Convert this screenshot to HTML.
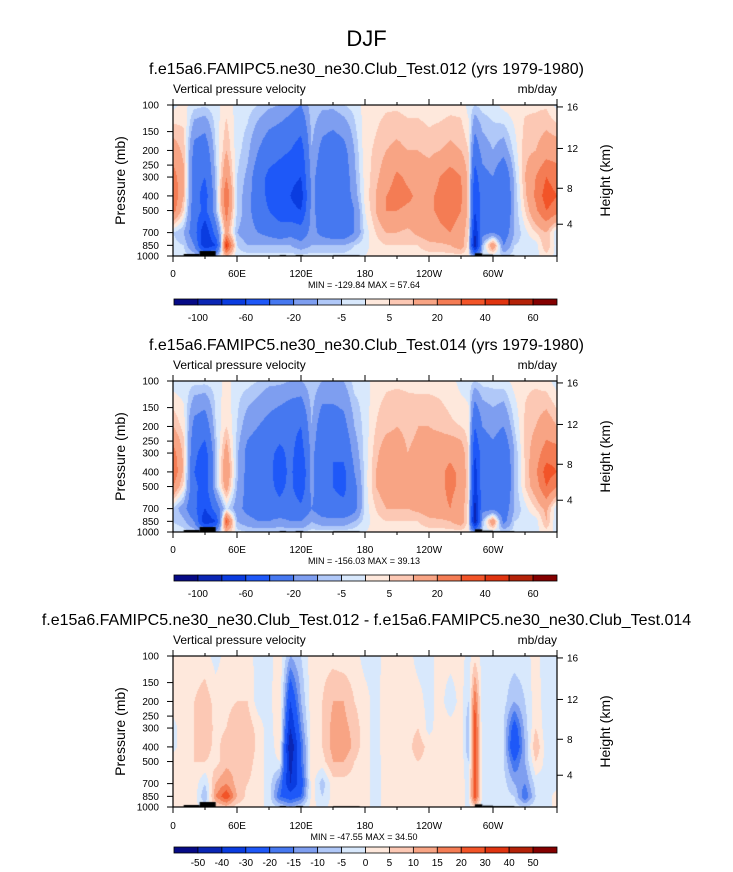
<!DOCTYPE html>
<html><head><meta charset="utf-8"><style>
body{margin:0;background:#fff;width:733px;height:872px;overflow:hidden;font-family:"Liberation Sans",Arial,sans-serif}
canvas{position:absolute}
svg{position:absolute;left:0;top:0}
</style></head><body>
<canvas id="c1" width="384" height="151" style="left:173px;top:105px"></canvas>
<canvas id="c2" width="384" height="151" style="left:173px;top:381px"></canvas>
<canvas id="c3" width="384" height="151" style="left:173px;top:656px"></canvas>
<svg id="s" width="733" height="872"></svg>
<script>
const lons=[0,10,20,30,40,50,60,70,80,90,100,110,120,130,140,150,160,170,180,190,200,210,220,230,240,250,260,270,277,283,290,300,310,320,330,340,350,360];
const levs=[100,200,300,400,500,700,850,1000];
const xTickLabels=["0","60E","120E","180","120W","60W"];
const xTickLons=[0,60,120,180,240,300];
const pTicks=[100,150,200,250,300,400,500,700,850,1000];
const hTicks=[4,8,12,16];
const hTickP=[616,356,194,103];
const levels1=[-100,-80,-60,-40,-20,-10,-5,0,5,10,20,30,40,50,60];
const levels3=[-50,-40,-30,-20,-15,-10,-5,0,5,10,15,20,30,40,50];
const colors=["#060a86","#0a26b4","#0a3ce0","#1e58f8","#4678f0","#7e9ef0","#b0c8f8","#d8e8fc","#fee8dc","#fcc8b4","#f8a484","#f47c54","#f25428","#e03410","#b42208","#840000"];
const data1=[
[-2,2,-3,-4,-2,3,-2,-3,-5,-8,-10,-15,-20,-5,-8,-8,-5,-3,2,3,4,4,3,3,2,2,3,3,-2,-5,-3,-2,2,3,4,4,4,-2],
[15,8,-25,-30,-5,10,-3,-8,-20,-30,-35,-40,-50,-10,-25,-30,-25,-10,3,6,10,12,10,10,8,10,12,10,5,-30,-15,-10,-15,-3,8,10,15,15],
[25,12,-30,-40,-8,20,-5,-12,-30,-45,-50,-55,-60,-15,-30,-35,-30,-12,2,8,15,22,18,15,15,20,25,20,8,-50,-25,-20,-35,-8,10,20,30,25],
[30,10,-30,-50,-10,30,-5,-15,-30,-45,-55,-60,-70,-15,-30,-40,-30,-15,2,10,20,25,22,18,18,22,28,22,8,-60,-30,-25,-40,-10,8,22,35,30],
[25,5,-30,-45,-10,25,-5,-15,-30,-40,-50,-55,-60,-15,-30,-35,-35,-20,0,10,20,20,18,18,18,22,25,20,8,-60,-30,-25,-40,-10,5,18,30,25],
[-5,-10,-30,-80,-30,15,-10,-15,-20,-25,-30,-25,-30,-15,-25,-30,-30,-20,-3,5,10,10,8,12,15,18,20,15,5,-80,-25,-20,-30,-10,-2,5,10,-5],
[-3,-5,-20,-80,-60,45,-5,-10,-10,-10,-10,-10,-15,-10,-10,-10,-10,-5,-2,3,5,5,5,5,8,8,10,15,3,-100,-10,20,-20,-5,-3,-3,10,-3],
[-2,-3,-5,-10,-10,10,-3,-3,-3,-3,-3,-3,-3,-3,-3,-3,-3,-2,0,2,2,2,2,3,3,3,3,3,1,-20,-3,-3,-5,-3,-2,-2,3,-2]];
const data2=[
[-3,-3,-3,-3,-3,2,-3,-3,-5,-8,-8,-10,-10,-5,-10,-10,-10,-3,-3,3,4,4,4,3,3,3,2,-2,-3,-5,-3,-3,-2,2,4,4,2,-3],
[10,3,-25,-30,-5,5,-5,-15,-20,-25,-30,-35,-40,-10,-30,-30,-25,-10,-3,5,8,10,8,10,10,8,6,5,3,-40,-20,-15,-20,-5,6,10,15,10],
[25,8,-35,-50,-8,15,-8,-25,-30,-35,-45,-35,-50,-15,-35,-40,-35,-15,-3,8,15,15,10,12,15,18,18,15,5,-60,-30,-25,-35,-10,6,15,25,25],
[30,8,-40,-55,-8,20,-8,-25,-35,-35,-50,-35,-60,-15,-40,-40,-45,-20,-3,10,15,15,12,15,15,18,22,18,5,-70,-30,-25,-40,-10,5,18,35,30],
[20,3,-35,-50,-8,15,-10,-25,-35,-35,-45,-35,-55,-15,-35,-40,-45,-25,-3,10,15,15,12,15,15,18,22,18,5,-70,-30,-25,-40,-10,5,15,30,20],
[-5,-15,-35,-60,-30,-3,-15,-25,-30,-30,-35,-30,-35,-20,-30,-35,-35,-25,-3,5,10,10,10,12,15,18,20,15,3,-90,-25,-25,-30,-10,-2,5,12,-5],
[-5,-8,-20,-80,-60,35,-10,-15,-20,-20,-15,-20,-20,-10,-15,-15,-15,-10,-3,3,5,5,5,5,8,8,10,15,3,-100,-10,20,-25,-5,-3,-3,10,-5],
[-2,-3,-5,-10,-15,10,-3,-5,-5,-5,-5,-5,-5,-3,-3,-3,-3,-2,0,2,2,2,2,3,3,3,3,3,1,-20,-3,-3,-5,-3,-2,-2,3,-2]];
const data3=[
[2,2,2,2,-2,2,3,2,-2,-2,3,-10,-5,3,3,3,2,2,-2,-2,2,2,2,-2,-2,2,2,2,-2,3,-2,-2,-2,-2,-2,2,-3,-3],
[3,3,5,8,3,3,5,5,-3,-2,5,-30,-10,3,5,10,10,5,2,-2,3,5,3,2,-2,2,-3,2,-5,20,-3,-3,-3,-10,-5,3,-3,-3],
[-2,3,5,10,3,5,10,8,3,-3,5,-40,-15,3,5,12,12,8,2,-2,3,5,3,5,-2,3,2,3,-10,25,-3,-3,-5,-25,-8,5,-3,-3],
[-2,3,5,8,3,8,10,10,3,-3,3,-50,-20,3,5,12,15,8,2,-2,3,3,3,8,3,5,2,3,-10,25,-3,-3,-5,-30,-10,10,-3,-3],
[3,3,5,5,3,8,8,8,2,-2,0,-45,-20,3,3,10,10,5,2,-2,2,3,3,5,3,5,3,3,-5,25,-3,-3,-5,-20,-10,5,-2,-2],
[3,5,3,-5,10,15,8,5,2,-2,-15,-40,-25,3,-8,3,3,3,2,-2,2,2,3,2,3,3,3,3,-3,25,-2,-2,-3,-10,-15,-3,-2,-2],
[3,3,3,-10,15,25,10,3,2,-2,-20,-25,-20,2,-5,2,2,2,2,-2,2,2,2,2,2,2,2,2,-2,25,-2,-2,-3,-5,-20,-5,-2,2],
[2,2,2,-3,5,8,3,2,2,-2,-5,-10,-5,2,-2,2,2,2,2,-2,2,2,2,2,2,2,2,2,-2,5,-2,-2,-2,-3,-5,-2,-2,2]];
const topoStart=[10,25,100,115,150,283,290,300];
const topoEnd=[25,40,106,122,175,290,300,320];
const topoP=[970,927,985,985,990,960,980,988];

const W=384,H=151,X0=173;
const ln100=Math.log(100),lnR=Math.log(10);
function xOf(lon){return X0+lon/360*W;}
function yOf(p,top){return top+(Math.log(p)-ln100)/lnR*H;}
function colorFor(v,lv){let i=0;while(i<lv.length&&v>=lv[i])i++;return colors[i];}
function hex(c){return [parseInt(c.substr(1,2),16),parseInt(c.substr(3,2),16),parseInt(c.substr(5,2),16)];}
const lp=levs.map(Math.log);
function drawField(id,data,lv){
  const cv=document.getElementById(id),ctx=cv.getContext('2d');
  const img=ctx.createImageData(W,H);
  for(let j=0;j<H;j++){
    const lg=ln100+(j+0.5)/H*lnR;
    let k=0;while(k<lp.length-2&&lg>lp[k+1])k++;
    const ty=Math.min(1,Math.max(0,(lg-lp[k])/(lp[k+1]-lp[k])));
    for(let i=0;i<W;i++){
      const lon=(i+0.5)/W*360;
      let m=0;while(m<lons.length-2&&lon>lons[m+1])m++;
      const tx=Math.min(1,Math.max(0,(lon-lons[m])/(lons[m+1]-lons[m])));
      const a=data[k][m]*(1-tx)+data[k][m+1]*tx, b=data[k+1][m]*(1-tx)+data[k+1][m+1]*tx;
      const v=a*(1-ty)+b*ty;
      const c=hex(colorFor(v,lv));const o=(j*W+i)*4;
      img.data[o]=c[0];img.data[o+1]=c[1];img.data[o+2]=c[2];img.data[o+3]=255;
    }
  }
  ctx.putImageData(img,0,0);
  ctx.fillStyle='#000';
  for(let t=0;t<topoStart.length;t++){
    const x1=topoStart[t]/360*W,x2=topoEnd[t]/360*W,y=yOf(topoP[t],0);
    ctx.fillRect(x1,y,x2-x1,H-y);
  }
}
drawField('c1',data1,levels1);
drawField('c2',data2,levels1);
drawField('c3',data3,levels3);

const svg=document.getElementById('s');const NS='http://www.w3.org/2000/svg';
function el(tag,attrs,txt){const e=document.createElementNS(NS,tag);for(const k in attrs)e.setAttribute(k,attrs[k]);if(txt!==undefined)e.textContent=txt;svg.appendChild(e);return e;}
function T(x,y,s,size,anchor,name){const e=el('text',{x:x,y:y,'font-size':size,'text-anchor':anchor||'middle','font-family':'Liberation Sans, Arial, sans-serif',fill:'#000'},s);


return e;}
T(366.5,46,"DJF",22,'middle','main-title');
const panels=[
 {top:105,title:"f.e15a6.FAMIPC5.ne30_ne30.Club_Test.012 (yrs 1979-1980)",mm:"MIN = -129.84  MAX =  57.64",cb:299,lv:levels1,odd:true,xl:277,mmy:288,lb:321},
 {top:381,title:"f.e15a6.FAMIPC5.ne30_ne30.Club_Test.014 (yrs 1979-1980)",mm:"MIN = -156.03  MAX =  39.13",cb:575,lv:levels1,odd:true,xl:553,mmy:564,lb:597},
 {top:656,title:"f.e15a6.FAMIPC5.ne30_ne30.Club_Test.012 - f.e15a6.FAMIPC5.ne30_ne30.Club_Test.014",mm:"MIN = -47.55  MAX =  34.50",cb:847,lv:levels3,odd:false,xl:829,mmy:840,lb:866}];
panels.forEach((P,pi)=>{
  const top=P.top,bot=top+H;
  T(366.5,top-31,P.title,16,'middle','panel-title-'+(pi+1));
  T(173,top-12,"Vertical pressure velocity",12,'start','variable-label-'+(pi+1));
  T(557,top-12,"mb/day",12,'end','units-label-'+(pi+1));
  const fr=el('rect',{x:X0,y:top,width:W,height:H,fill:'none',stroke:'#000','stroke-width':1.2});
  
  
  for(let lon=0;lon<=360;lon+=30){
    const x=xOf(lon),len=lon%60===0?6:3;
    const t1=el('line',{x1:x,y1:top,x2:x,y2:top-len,stroke:'#000','stroke-width':1});
    
    
    const t2=el('line',{x1:x,y1:bot,x2:x,y2:bot+len,stroke:'#000','stroke-width':1});
    
    
  }
  xTickLabels.forEach((s,i)=>T(xOf(xTickLons[i]),P.xl,s,10,'middle','x-tick-label'));
  pTicks.forEach(p=>{const y=yOf(p,top);
    const t=el('line',{x1:X0,y1:y,x2:X0-6,y2:y,stroke:'#000','stroke-width':1});
    
    
    T(159,y+3.5,String(p),10,'end','pressure-tick-label');});
  hTicks.forEach((h,i)=>{const y=yOf(hTickP[i],top);
    const t=el('line',{x1:X0+W,y1:y,x2:X0+W+6,y2:y,stroke:'#000','stroke-width':1});
    
    
    T(567,y+3.5,String(h),10,'start','height-tick-label');});
  const yl=T(0,0,"Pressure (mb)",14,'middle','y-axis-title-'+(pi+1));
  yl.setAttribute('transform','translate(125,'+(top+H/2)+') rotate(-90)');
  const yr=T(0,0,"Height (km)",14,'middle','right-axis-title-'+(pi+1));
  yr.setAttribute('transform','translate(610,'+(top+H/2)+') rotate(-90)');
  T(364,P.mmy,P.mm,9,'middle','min-max-label-'+(pi+1));
  const bx0=174,bw=(557-174)/16;
  for(let k=0;k<16;k++){
    const r=el('rect',{x:bx0+k*bw,y:P.cb,width:bw,height:6,fill:colors[k],stroke:'#000','stroke-width':0.8});
    
    
  }
  P.lv.forEach((v,i)=>{const k=i+1;if(P.odd&&k%2===0)return;
    T(bx0+k*bw,P.lb,String(v),10,'middle','colorbar-label');});
});
</script>
</body></html>
